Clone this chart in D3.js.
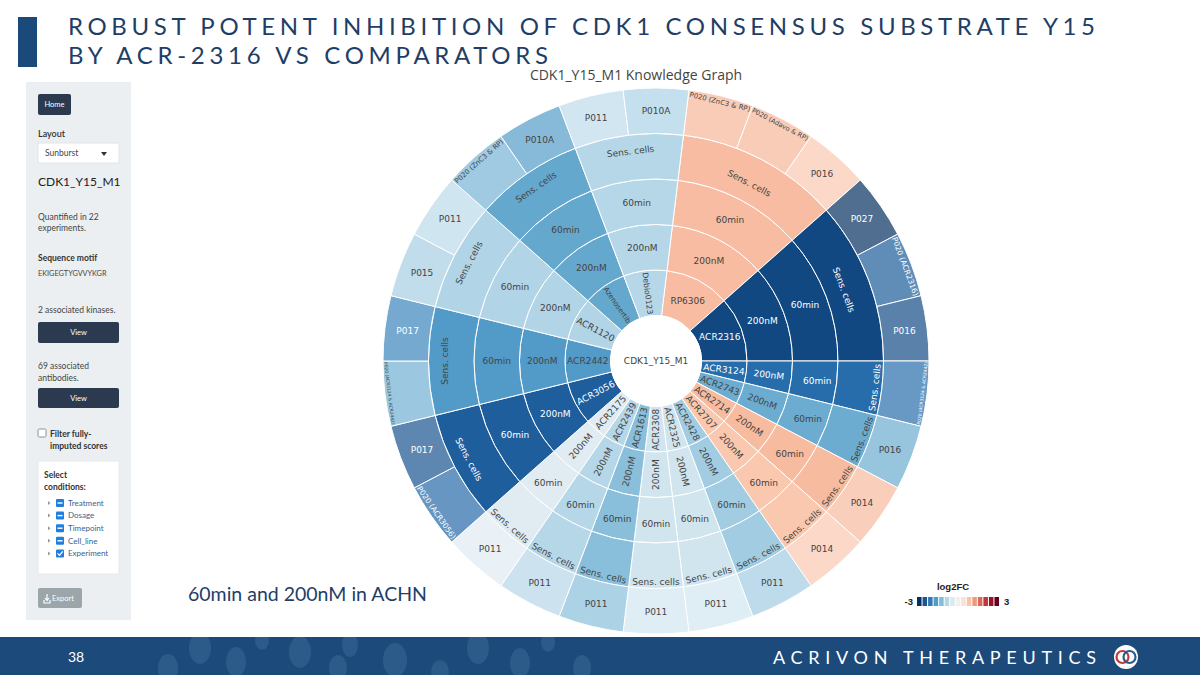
<!DOCTYPE html>
<html><head><meta charset="utf-8">
<script src="https://cdn.jsdelivr.net/npm/d3@7"></script>
<style>
html,body{margin:0;padding:0;background:#fff;}
svg{display:block;}
</style></head>
<body>
<svg id="c" width="1200" height="675"></svg>
<script>
// ---------------- DATA ----------------
const rootLabel = "CDK1_Y15_M1";
const treatments = ["RP6306","ACR2316","ACR3124","ACR2743","ACR2714","ACR2707","ACR2428","ACR2325","ACR2308","ACR1613","ACR2439","ACR2175","ACR3056","ACR2442","ACR1120","Azenosertib","Debio0123"];
const dosageLabel = "200nM";
const timepointLabel = "60min";
const cellLineLabel = "Sens. cells";
const experiments = [
  ["P020 (ZnC3 & RP)","P020 (Adavo & RP)","P016"],
  ["P027","P020 (ACR2316)","P016"],
  ["P020 (ACR3124 & ACR2442)"],
  ["P016"],
  ["P014"],
  ["P014"],
  ["P011"],["P011"],["P011"],["P011"],["P011"],["P011"],
  ["P020 (ACR3056)","P017"],
  ["P020 (ACR3124 & ACR2442)","P017"],
  ["P015","P011"],
  ["P020 (ZnC3 & RP)","P010A"],
  ["P011","P010A"]
];
const log2FC = [
  [1.0,1.0,0.8],
  [-3.0,-2.5,-2.7],
  [-2.3],
  [-1.5],
  [0.95],
  [0.8],
  [-1.05],[-0.55],[-0.55],[-1.25],[-0.85],[-0.35],
  [-2.35,-2.6],
  [-1.45,-2.0],
  [-1.0,-0.8],
  [-1.4,-1.7],
  [-0.75,-0.95]
];
const legendTicks = [-3, 3];
const legendSteps = 15;
const titleLines = ["ROBUST POTENT INHIBITION OF CDK1 CONSENSUS SUBSTRATE Y15","BY ACR-2316 VS COMPARATORS"];
const chartTitle = "CDK1_Y15_M1 Knowledge Graph";
const noteText = "60min and 200nM in ACHN";

// ---------------- SETUP ----------------
const svg = d3.select("#c");
const NAVY = "#1f3e66";
svg.append("rect").attr("width",1200).attr("height",675).attr("fill","#fff");

const colorOf = v => d3.interpolateRdBu(Math.max(0, Math.min(1, (legendTicks[1] - v) / (legendTicks[1] - legendTicks[0]))));
const brightness = c => { const k = d3.rgb(c); return (k.r*299 + k.g*587 + k.b*114)/1000; };

// ---------------- TITLE ----------------
svg.append("rect").attr("x",18).attr("y",17).attr("width",19).attr("height",50).attr("fill","#1b4a7a");
const tl = svg.append("g").attr("font-family","Lato, 'Open Sans', sans-serif").attr("font-weight",400).attr("fill",NAVY).attr("font-size",24);
tl.append("text").attr("x",68).attr("y",35).attr("textLength",1027).attr("lengthAdjust","spacing").text(titleLines[0]);
tl.append("text").attr("x",68).attr("y",64).attr("textLength",480).attr("lengthAdjust","spacing").text(titleLines[1]);

svg.append("text").attr("x",636).attr("y",80).attr("text-anchor","middle")
  .attr("font-family","'Open Sans', sans-serif").attr("font-size",14).attr("fill","#444").text(chartTitle);

// ---------------- SUNBURST ----------------
const cx = 656, cy = 361, R = 273;
const treeData = {
  name: rootLabel,
  children: treatments.map((t, i) => ({
    name: t,
    children: [{ name: dosageLabel, children: [{ name: timepointLabel, children: [{ name: cellLineLabel,
      children: experiments[i].map((e, j) => ({ name: e, fc: log2FC[i][j] })) }] }] }]
  }))
};
const root = d3.hierarchy(treeData).count();
const levels = root.height + 1;
const rw = R / levels;
d3.partition().size([2*Math.PI, levels])(root);
const nLeaves = root.value;
const off = Math.PI / nLeaves; // start offset (half a leaf)
root.each(d => {
  const vals = d.leaves().map(l => l.data.fc);
  d.fc = d3.mean(vals);
  d.color = colorOf(d.fc);
});

const g = svg.append("g").attr("transform",`translate(${cx},${cy})`);
const arc = d3.arc()
  .startAngle(d => d.x0 + off).endAngle(d => d.x1 + off)
  .innerRadius(d => d.y0 * rw).outerRadius(d => d.y1 * rw);

const nodes = root.descendants().filter(d => d.depth > 0);
g.selectAll("path.cell").data(nodes).join("path")
  .attr("class","cell")
  .attr("d", arc)
  .attr("fill", d => d.color)
  .attr("fill-opacity", d => d.children ? 1 : 0.7)
  .attr("stroke", "#fff").attr("stroke-width", 1);

g.append("circle").attr("r", rw).attr("fill","#fff").attr("stroke","#fff");

// text fitting (plotly-like auto orientation)
const cvs = document.createElement("canvas").getContext("2d");
const FS = 9, FONT = "'DejaVu Sans', Verdana, sans-serif";
function measure(t, fs){ cvs.font = `${fs}px ${FONT}`; return cvs.measureText(t).width; }
function fit(d, label){
  const w = measure(label, FS), h = FS * 1.15;
  const r1 = d.y1 * rw, r0 = d.y0 * rw;
  const half = (d.x1 - d.x0) / 2;
  const ring = 1 - r0 / r1;
  const rIns = Math.min(1/(1 + 1/Math.sin(half)), ring/2);
  const hT = { scale: rIns * r1 * 2 / Math.hypot(w, h), rc: 1 - rIns, o: "h" };
  if (hT.scale >= 1) { hT.scale = 1; return hT; }
  const rr = Math.max(0, r1 - 6);
  const maxHalf = a => { const q = a + 1/(2*Math.tan(half));
    return rr * Math.min(1/(Math.sqrt(q*q + 0.5) + q), ring/(Math.sqrt(a*a + ring/2) + a)); };
  const aR = w/h, sR = maxHalf(aR);
  const radT = { scale: 2*sR/h, rc: Math.sqrt(1 - (sR/rr)**2) - aR*sR/rr, o: "r" };
  const aT = h/w, sT = maxHalf(aT);
  const tanT = { scale: 2*sT/w, rc: Math.sqrt(1 - (sT/rr)**2) - aT*sT/rr, o: "t" };
  let best = hT;
  [radT, tanT].forEach(t => { if (t.scale > best.scale) best = t; });
  best.scale = Math.min(1, best.scale);
  return best;
}
const labels = g.append("g").attr("font-family", FONT).attr("text-anchor","middle");
nodes.forEach(d => {
  const label = d.data.name;
  const f = fit(d, label);
  const th = (d.x0 + d.x1)/2 + off;
  const rho = f.rc * d.y1 * rw;
  const x = rho * Math.sin(th), y = -rho * Math.cos(th);
  const deg = th * 180 / Math.PI;
  let rot = f.o === "h" ? 0 : (f.o === "r" ? deg - 90 : deg);
  while (rot >= 89.99) rot -= 180;
  while (rot < -90.01) rot += 180;
  labels.append("text")
    .attr("transform", `translate(${x},${y}) rotate(${rot})`)
    .attr("dy","0.36em")
    .attr("font-size", FS * f.scale)
    .attr("fill", brightness(d.color) < 128 ? "#fff" : "#444")
    .text(label);
});
labels.append("text").attr("dy","0.36em").attr("font-size",FS).attr("fill","#444").text(rootLabel);

// ---------------- LEGEND ----------------
const lg = svg.append("g").attr("font-family","'Liberation Sans', Arial, sans-serif").attr("font-weight","bold").attr("fill","#222");
lg.append("text").attr("x",953).attr("y",590).attr("text-anchor","middle").attr("font-size",9.5).text("log2FC");
lg.append("text").attr("x",913).attr("y",605).attr("text-anchor","end").attr("font-size",9.5).text(String(legendTicks[0]));
lg.append("text").attr("x",1004).attr("y",605).attr("font-size",9.5).text(String(legendTicks[1]));
const lx = d3.scaleLinear().domain([0, legendSteps]).range([917, 1000]);
d3.range(legendSteps).forEach(i => {
  const v = legendTicks[0] + (legendTicks[1]-legendTicks[0]) * i/(legendSteps-1);
  lg.append("rect").attr("x", lx(i)).attr("y",597).attr("width", lx(1)-lx(0)-1).attr("height",9).attr("fill", colorOf(v));
});

// ---------------- NOTE ----------------
svg.append("text").attr("x",188).attr("y",601).attr("font-family","Lato, sans-serif").attr("font-size",19.5)
  .attr("fill",NAVY).text(noteText);

// ---------------- LEFT PANEL ----------------
const p = svg.append("g").attr("font-family","Lato, 'Open Sans', sans-serif");
p.append("rect").attr("x",26).attr("y",82).attr("width",105).attr("height",538).attr("fill","#eceff1");
function btn(x,y,w,h,fill,label,fs){
  p.append("rect").attr("x",x).attr("y",y).attr("width",w).attr("height",h).attr("rx",2).attr("fill",fill);
  p.append("text").attr("x",x+w/2).attr("y",y+h/2).attr("dy","0.35em").attr("text-anchor","middle")
    .attr("font-size",fs).attr("fill","#fff").text(label);
}
const DK = "#2b3a4e";
btn(38,94,33,21,DK,"Home",7.5);
p.append("text").attr("x",38).attr("y",137).attr("font-size",9).attr("font-weight",600).attr("fill","#333").text("Layout");
p.append("rect").attr("x",38).attr("y",143).attr("width",81).attr("height",20).attr("fill","#fff").attr("stroke","#e2e4e6");
p.append("text").attr("x",45).attr("y",156).attr("font-size",8.5).attr("fill","#444").text("Sunburst");
p.append("path").attr("d","M101,152 L107,152 L104,156 Z").attr("fill","#333");
p.append("text").attr("x",38).attr("y",186).attr("font-size",12).attr("fill","#222").text("CDK1_Y15_M1");
p.append("text").attr("x",38).attr("y",220).attr("font-size",8.5).attr("fill","#444").text("Quantified in 22");
p.append("text").attr("x",38).attr("y",231).attr("font-size",8.5).attr("fill","#444").text("experiments.");
p.append("text").attr("x",38).attr("y",261).attr("font-size",8.5).attr("font-weight",700).attr("fill","#333").text("Sequence motif");
p.append("text").attr("x",38).attr("y",276).attr("font-size",7.3).attr("fill","#444").text("EKIGEGTYGVVYKGR");
p.append("text").attr("x",38).attr("y",313).attr("font-size",8.5).attr("fill","#444").text("2 associated kinases.");
btn(38,322,81,21,DK,"View",7.5);
p.append("text").attr("x",38).attr("y",369).attr("font-size",8.5).attr("fill","#444").text("69 associated");
p.append("text").attr("x",38).attr("y",381).attr("font-size",8.5).attr("fill","#444").text("antibodies.");
btn(38,388,81,20,DK,"View",7.5);
p.append("rect").attr("x",38).attr("y",429).attr("width",8).attr("height",8).attr("rx",1.5).attr("fill","#fff").attr("stroke","#777").attr("stroke-width",0.8);
p.append("text").attr("x",50).attr("y",437).attr("font-size",8.5).attr("font-weight",700).attr("fill","#333").text("Filter fully-");
p.append("text").attr("x",50).attr("y",449).attr("font-size",8.5).attr("font-weight",700).attr("fill","#333").text("imputed scores");
p.append("rect").attr("x",38).attr("y",461).attr("width",81).attr("height",113).attr("fill","#fff").attr("stroke","#e6e8ea");
p.append("text").attr("x",44).attr("y",478).attr("font-size",8.5).attr("font-weight",700).attr("fill","#333").text("Select");
p.append("text").attr("x",44).attr("y",490).attr("font-size",8.5).attr("font-weight",700).attr("fill","#333").text("conditions:");
const conds = ["Treatment","Dosage","Timepoint","Cell_line","Experiment"];
conds.forEach((c,i) => {
  const y = 503 + i*12.6;
  p.append("path").attr("d",`M48,${y-2} L50.5,${y} L48,${y+2} Z`).attr("fill","#999");
  p.append("rect").attr("x",56).attr("y",y-4).attr("width",8).attr("height",8).attr("rx",1).attr("fill","#1f7fe0");
  if (i < 4) p.append("rect").attr("x",57.5).attr("y",y-0.7).attr("width",5).attr("height",1.4).attr("fill","#fff");
  else p.append("path").attr("d",`M57.5,${y} L59.5,${y+2} L62.8,${y-2}`).attr("stroke","#fff").attr("stroke-width",1.3).attr("fill","none");
  p.append("text").attr("x",68).attr("y",y).attr("dy","0.35em").attr("font-size",8).attr("fill","#3d5f8c").text(c);
});
p.append("rect").attr("x",38).attr("y",588).attr("width",44).attr("height",20).attr("rx",2).attr("fill","#9ba5aa");
p.append("path").attr("d","M44,600 L44,603 L50,603 L50,600 M47,594 L47,600 M45,598 L47,600.5 L49,598").attr("stroke","#fff").attr("stroke-width",1.2).attr("fill","none");
p.append("text").attr("x",52).attr("y",598).attr("dy","0.35em").attr("font-size",7.5).attr("fill","#fff").text("Export");

// ---------------- FOOTER ----------------
const f = svg.append("g");
f.append("rect").attr("x",0).attr("y",637).attr("width",1200).attr("height",38).attr("fill","#1c4a7a");
const clip = svg.append("clipPath").attr("id","fc");
clip.append("rect").attr("x",0).attr("y",637).attr("width",1200).attr("height",38);
const ov = f.append("g").attr("clip-path","url(#fc)").attr("fill","#3a6897").attr("opacity",0.55);
[[168,668,10,14],[200,648,11,16],[236,662,10,15],[262,640,7,10],[300,652,11,16],[338,668,9,13],[350,645,8,12],
 [395,660,12,17],[440,672,9,12],[478,648,11,16],[520,663,10,15],[548,642,7,10],[582,668,9,13]]
 .forEach(e => ov.append("ellipse").attr("cx",e[0]).attr("cy",e[1]).attr("rx",e[2]).attr("ry",e[3]));
f.append("text").attr("x",68).attr("y",662).attr("font-family","Lato, sans-serif").attr("font-size",14).attr("fill","#fff").text("38");
f.append("text").attr("x",773).attr("y",664).attr("font-family","Lato, sans-serif").attr("font-size",18)
  .attr("textLength",323).attr("lengthAdjust","spacing").attr("fill","#fff").text("ACRIVON THERAPEUTICS");
f.append("circle").attr("cx",1126).attr("cy",657).attr("r",12).attr("fill","#fff");
f.append("circle").attr("cx",1122.5).attr("cy",657).attr("r",6).attr("fill","none").attr("stroke","#c23b3b").attr("stroke-width",2.2);
f.append("circle").attr("cx",1129.5).attr("cy",657).attr("r",6).attr("fill","none").attr("stroke","#2b5b8e").attr("stroke-width",2.2);
</script>
</body></html>
